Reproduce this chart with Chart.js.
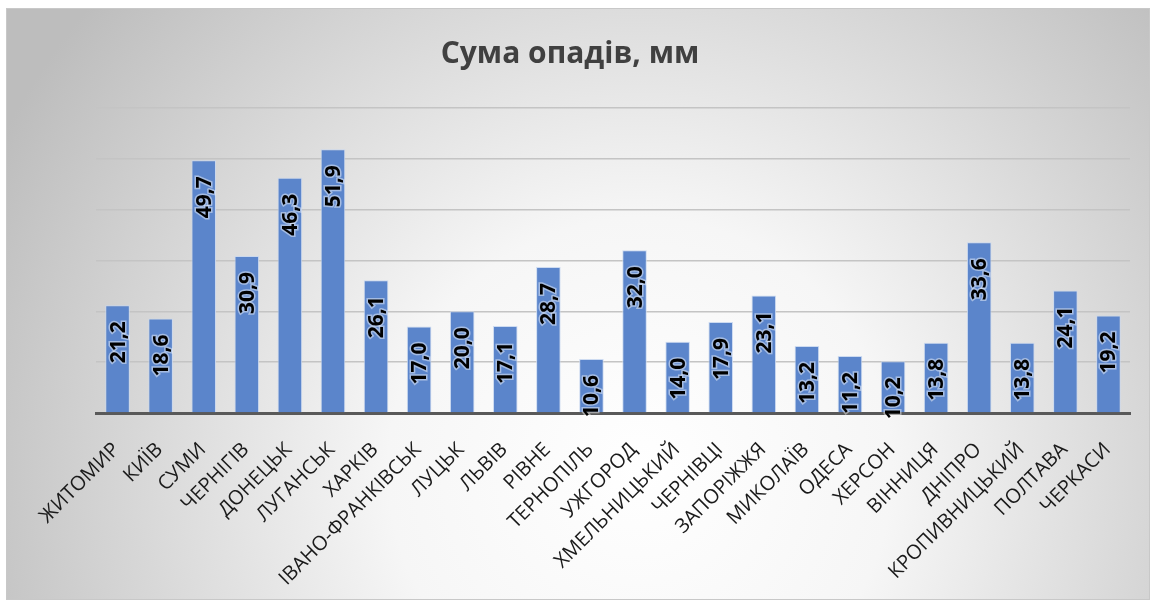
<!DOCTYPE html>
<html>
<head>
<meta charset="utf-8">
<script src="https://cdn.jsdelivr.net/npm/chart.js@4"></script>
<style>
    body { margin: 0; background: #fff; }
    #chart { display: block; }
</style>
</head>
<body>
<canvas id="chart" width="1153" height="604"></canvas>
<script>
const cities = ['ЖИТОМИР', 'КИЇВ', 'СУМИ', 'ЧЕРНІГІВ', 'ДОНЕЦЬК', 'ЛУГАНСЬК', 'ХАРКІВ', 'ІВАНО-ФРАНКІВСЬК',
    'ЛУЦЬК', 'ЛЬВІВ', 'РІВНЕ', 'ТЕРНОПІЛЬ', 'УЖГОРОД', 'ХМЕЛЬНИЦЬКИЙ', 'ЧЕРНІВЦІ', 'ЗАПОРІЖЖЯ',
    'МИКОЛАЇВ', 'ОДЕСА', 'ХЕРСОН', 'ВІННИЦЯ', 'ДНІПРО', 'КРОПИВНИЦЬКИЙ', 'ПОЛТАВА', 'ЧЕРКАСИ'];
const precipitation = [21.2, 18.6, 49.7, 30.9, 46.3, 51.9, 26.1, 17.0, 20.0, 17.1, 28.7, 10.6,
    32.0, 14.0, 17.9, 23.1, 13.2, 11.2, 10.2, 13.8, 33.6, 13.8, 24.1, 19.2];
const yTicks = [0, 10, 20, 30, 40, 50, 60];

// background: radial grey-white fill plus thin frame
const backdrop = {
    id: 'backdrop',
    beforeDraw(chart) {
        const ctx = chart.ctx;
        ctx.save();
        const g = ctx.createRadialGradient(640, 470, 0, 640, 470, 720);
        g.addColorStop(0, '#ffffff');
        g.addColorStop(0.35, '#f6f6f6');
        g.addColorStop(1, '#bdbdbd');
        ctx.fillStyle = g;
        ctx.fillRect(6, 8, 1144, 592);
        ctx.strokeStyle = '#c8c8c8';
        ctx.lineWidth = 1;
        ctx.strokeRect(6.5, 8.5, 1143, 591);
        ctx.restore();
    }
};

// vertical value labels inside the top of each bar
const barValues = {
    id: 'barValues',
    afterDatasetsDraw(chart) {
        const ctx = chart.ctx;
        const meta = chart.getDatasetMeta(0);
        ctx.save();
        ctx.font = 'bold 21px "Open Sans", sans-serif';
        ctx.textAlign = 'right';
        ctx.textBaseline = 'middle';
        meta.data.forEach((bar, i) => {
            const txt = precipitation[i].toFixed(1).replace('.', ',');
            ctx.save();
            ctx.translate(bar.x, bar.y + 16);
            ctx.rotate(-Math.PI / 2);
            ctx.lineWidth = 3;
            ctx.strokeStyle = 'rgba(255,255,255,0.45)';
            ctx.strokeText(txt, 0, 1);
            ctx.fillStyle = '#000000';
            ctx.fillText(txt, 0, 1);
            ctx.restore();
        });
        ctx.restore();
    }
};

new Chart(document.getElementById('chart').getContext('2d'), {
    type: 'bar',
    data: {
        labels: cities,
        datasets: [{
            data: precipitation,
            backgroundColor: '#5b85cb',
            borderColor: 'rgba(200,215,240,0.9)',
            borderWidth: 1,
            borderSkipped: 'bottom',
            barPercentage: 0.57,
            categoryPercentage: 1
        }]
    },
    options: {
        responsive: false,
        animation: false,
        layout: { padding: { left: 10, right: 23, top: 0, bottom: 0 } },
        plugins: {
            legend: { display: false },
            tooltip: { enabled: false },
            title: {
                display: true,
                text: 'Сума опадів, мм',
                color: '#404040',
                font: { family: '"Open Sans", sans-serif', size: 30, weight: 'bold' },
                padding: { top: 36, bottom: 36 }
            }
        },
        scales: {
            x: {
                grid: { display: false },
                border: { color: '#595959', width: 3 },
                ticks: {
                    color: '#1a1a1a',
                    font: { family: '"Open Sans", sans-serif', size: 20 },
                    minRotation: 45,
                    maxRotation: 45,
                    autoSkip: false,
                    padding: 17,
                    labelOffset: -1
                },
                afterFit(scale) { scale.height = 191; }
            },
            y: {
                min: yTicks[0],
                max: yTicks[yTicks.length - 1],
                afterBuildTicks(scale) { scale.ticks = yTicks.map(v => ({ value: v })); },
                ticks: { display: false },
                grid: { color: '#c4c4c4', lineWidth: 1.5, drawTicks: false },
                border: { display: false },
                afterFit(scale) { scale.width = 86; }
            }
        }
    },
    plugins: [backdrop, barValues]
});
</script>
</body>
</html>
